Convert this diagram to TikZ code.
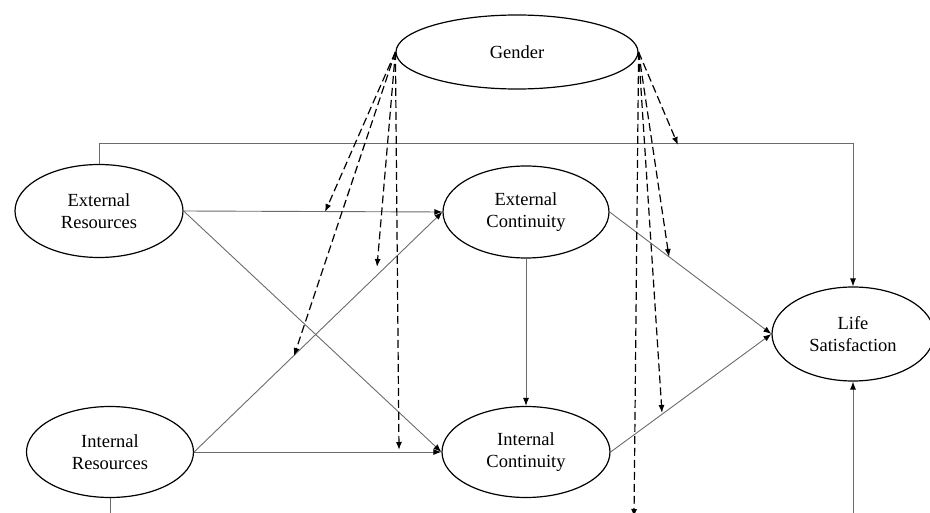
\documentclass[tikz,border=0pt]{standalone}
\usepackage{fontspec}
\setmainfont{Liberation Serif}
\usepackage{tikz}
\usetikzlibrary{positioning,shapes,arrows.meta}
\definecolor{linegray}{rgb}{0.42,0.42,0.42}
\tikzstyle{latent}=[%
      ellipse, draw=black, line width=1.2pt, fill=white,
      align=center, inner sep=0pt, font=\fontsize{18.5}{22}\selectfont
]
\tikzstyle{effect}=[%
      draw=linegray, line width=0.9pt, -{Latex[length=8pt,width=6pt,black]}
]
\tikzstyle{moder}=[%
      draw=black, line width=1.2pt, dash pattern=on 8pt off 4pt, -{Latex[length=8pt,width=6pt]}
]
\begin{document}
\begin{tikzpicture}[x=1pt, y=-1pt]
    \useasboundingbox (0,0) rectangle (930,513);
    \clip (0,0) rectangle (930,513);

    \node[latent, minimum width=242, minimum height=74]  (gender) at (517,52)  {Gender};
    \node[latent, minimum width=168, minimum height=93]  (eres)   at (99,211)  {External\\Resources};
    \node[latent, minimum width=167, minimum height=91]  (ires)   at (110,452) {Internal\\Resources};
    \node[latent, minimum width=166, minimum height=92]  (econt)  at (526,212) {External\\Continuity};
    \node[latent, minimum width=168, minimum height=91]  (icont)  at (526,452) {Internal\\Continuity};
    \node[latent, minimum width=162, minimum height=94]  (life)   at (853,334) {Life\\Satisfaction};

    % direct effects
    \path[effect] (eres.east) -- (econt.west);
    \path[effect] (eres.east) -- (icont.west);
    \path[effect] (ires.east) -- (econt.west);
    \path[effect] (ires.east) -- (icont.west);
    \path[effect] (econt.south) -- (icont.north);
    \path[effect] (econt.east) -- (life.west);
    \path[effect] (icont.east) -- (life.west);
    \path[effect] (eres.north) -- ++(0,-20) -| (life.north);
    \path[effect] (ires.south) -- ++(0,22) -| (life.south);

    % moderation by gender
    \coordinate (m1) at (325,212);
    \coordinate (m2) at (294,356);
    \coordinate (m3) at (377,267);
    \coordinate (m4) at (399,450);
    \coordinate (m5) at (678,145);
    \coordinate (m6) at (669,257);
    \coordinate (m7) at (662,413);
    \coordinate (m8) at (634,517);

    \path[moder] (gender.west) -- (m1);
    \path[moder] (gender.west) -- (m2);
    \path[moder] (gender.west) -- (m3);
    \path[moder] (gender.west) -- (m4);
    \path[moder] (gender.east) -- (m5);
    \path[moder] (gender.east) -- (m6);
    \path[moder] (gender.east) -- (m7);
    \path[moder] (gender.east) -- (m8);
\end{tikzpicture}
\end{document}
